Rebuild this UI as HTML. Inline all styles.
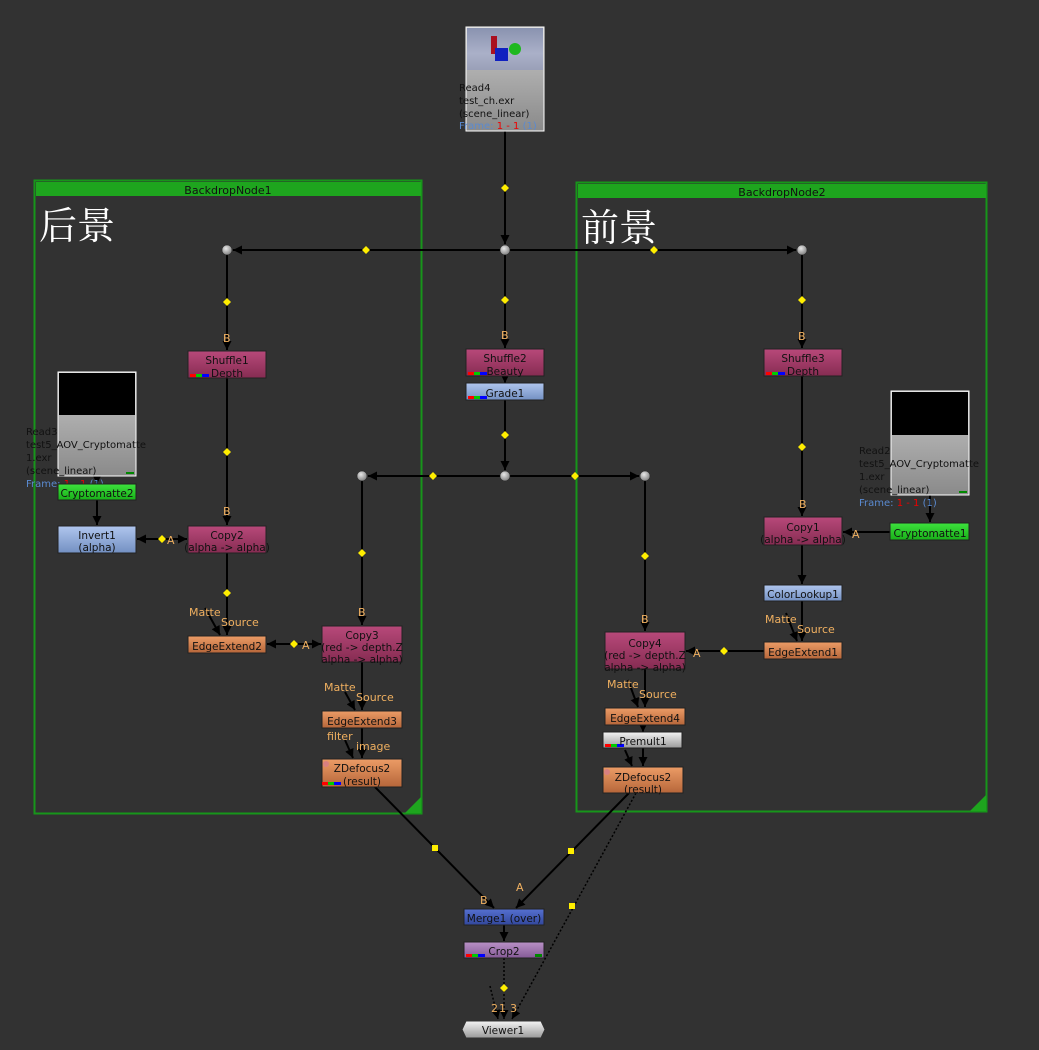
<!DOCTYPE html>
<html><head><meta charset="utf-8"><style>
html,body{margin:0;padding:0;background:#323232;}
svg{display:block}
text{font-family:"DejaVu Sans","Liberation Sans","Noto Sans CJK SC",sans-serif;}
</style></head><body>
<svg width="1039" height="1050" viewBox="0 0 1039 1050" xmlns="http://www.w3.org/2000/svg">
<defs>
<linearGradient id="pk" x1="0" y1="0" x2="0" y2="1"><stop offset="0" stop-color="#b8497a"/><stop offset="1" stop-color="#862c52"/></linearGradient>
<linearGradient id="bl" x1="0" y1="0" x2="0" y2="1"><stop offset="0" stop-color="#b0c6ee"/><stop offset="1" stop-color="#7390c2"/></linearGradient>
<linearGradient id="or" x1="0" y1="0" x2="0" y2="1"><stop offset="0" stop-color="#ec9c66"/><stop offset="1" stop-color="#b6663a"/></linearGradient>
<linearGradient id="gr" x1="0" y1="0" x2="0" y2="1"><stop offset="0" stop-color="#3de23d"/><stop offset="1" stop-color="#18b018"/></linearGradient>
<linearGradient id="mg" x1="0" y1="0" x2="0" y2="1"><stop offset="0" stop-color="#5570d0"/><stop offset="1" stop-color="#32479c"/></linearGradient>
<linearGradient id="cr" x1="0" y1="0" x2="0" y2="1"><stop offset="0" stop-color="#b991c6"/><stop offset="1" stop-color="#855a96"/></linearGradient>
<linearGradient id="wh" x1="0" y1="0" x2="0" y2="1"><stop offset="0" stop-color="#f4f4f4"/><stop offset="1" stop-color="#9a9a9a"/></linearGradient>
<linearGradient id="rd" x1="0" y1="0" x2="0" y2="1"><stop offset="0" stop-color="#c8c8c8"/><stop offset="1" stop-color="#8a8a8a"/></linearGradient>
<linearGradient id="th" x1="0" y1="0" x2="0" y2="1"><stop offset="0" stop-color="#8a93b0"/><stop offset="0.6" stop-color="#aab0c8"/><stop offset="1" stop-color="#9aa0b8"/></linearGradient>
<radialGradient id="dot" cx="0.4" cy="0.35" r="0.7"><stop offset="0" stop-color="#e8e8e8"/><stop offset="1" stop-color="#7a7a7a"/></radialGradient>
<marker id="ah" viewBox="0 0 10 10" refX="10" refY="5" markerWidth="9" markerHeight="9" markerUnits="userSpaceOnUse" orient="auto"><path d="M0,0 L10,5 L0,10 z" fill="#000"/></marker>
</defs>

<rect x="34.5" y="180.5" width="387" height="633" fill="none" stroke="#17961a" stroke-width="2"/>
<rect x="36" y="182" width="385" height="14" fill="#1ea51e"/>
<text x="228" y="194" font-size="11" text-anchor="middle" fill="#111">BackdropNode1</text>
<path d="M421,797 L421,813 L405,813 z" fill="#1ea51e"/>
<text x="39" y="239" font-size="38" fill="#fff" style="font-family:'Noto Serif CJK SC','Liberation Serif',serif">后景</text>

<rect x="576.5" y="182.5" width="410" height="629" fill="none" stroke="#17961a" stroke-width="2"/>
<rect x="578" y="184" width="408" height="14" fill="#1ea51e"/>
<text x="782" y="196" font-size="11" text-anchor="middle" fill="#111">BackdropNode2</text>
<path d="M986,795 L986,811 L970,811 z" fill="#1ea51e"/>
<text x="581" y="241" font-size="38" fill="#fff" style="font-family:'Noto Serif CJK SC','Liberation Serif',serif">前景</text>

<g stroke="#000" stroke-width="2" fill="none">
<line x1="505" y1="131" x2="505" y2="244" marker-end="url(#ah)"/>
<line x1="505" y1="250" x2="233" y2="250" marker-end="url(#ah)"/>
<line x1="505" y1="250" x2="796" y2="250" marker-end="url(#ah)"/>
<line x1="227" y1="250" x2="227" y2="350" marker-end="url(#ah)"/>
<line x1="505" y1="250" x2="505" y2="348" marker-end="url(#ah)"/>
<line x1="802" y1="250" x2="802" y2="348" marker-end="url(#ah)"/>
<line x1="505" y1="376" x2="505" y2="383" marker-end="url(#ah)"/>
<line x1="505" y1="400" x2="505" y2="470" marker-end="url(#ah)"/>
<line x1="505" y1="476" x2="368" y2="476" marker-end="url(#ah)"/>
<line x1="505" y1="476" x2="639" y2="476" marker-end="url(#ah)"/>
<line x1="227" y1="378" x2="227" y2="525" marker-end="url(#ah)"/>
<line x1="97" y1="476" x2="97" y2="484" marker-end="url(#ah)"/>
<line x1="97" y1="500" x2="97" y2="525" marker-end="url(#ah)"/>
<line x1="137" y1="539" x2="187" y2="539" marker-end="url(#ah)"/>
<line x1="160" y1="539" x2="137" y2="539" marker-end="url(#ah)"/>
<line x1="227" y1="553" x2="227" y2="635" marker-end="url(#ah)"/>
<line x1="205" y1="608" x2="220" y2="635" marker-end="url(#ah)"/>
<line x1="362" y1="476" x2="362" y2="625" marker-end="url(#ah)"/>
<line x1="267" y1="644" x2="321" y2="644" marker-end="url(#ah)"/>
<line x1="290" y1="644" x2="267" y2="644" marker-end="url(#ah)"/>
<line x1="362" y1="662" x2="362" y2="710" marker-end="url(#ah)"/>
<line x1="345" y1="692" x2="355" y2="710" marker-end="url(#ah)"/>
<line x1="362" y1="728" x2="362" y2="758" marker-end="url(#ah)"/>
<line x1="345" y1="740" x2="353" y2="758" marker-end="url(#ah)"/>
<line x1="802" y1="376" x2="802" y2="516" marker-end="url(#ah)"/>
<line x1="930" y1="495" x2="930" y2="522" marker-end="url(#ah)"/>
<line x1="890" y1="532" x2="843" y2="532" marker-end="url(#ah)"/>
<line x1="802" y1="545" x2="802" y2="584" marker-end="url(#ah)"/>
<line x1="802" y1="601" x2="802" y2="641" marker-end="url(#ah)"/>
<line x1="786" y1="613" x2="797" y2="641" marker-end="url(#ah)"/>
<line x1="645" y1="476" x2="645" y2="631" marker-end="url(#ah)"/>
<line x1="764" y1="651" x2="686" y2="651" marker-end="url(#ah)"/>
<line x1="645" y1="669" x2="645" y2="707" marker-end="url(#ah)"/>
<line x1="628" y1="680" x2="638" y2="707" marker-end="url(#ah)"/>
<line x1="643" y1="725" x2="643" y2="732" marker-end="url(#ah)"/>
<line x1="643" y1="748" x2="643" y2="766" marker-end="url(#ah)"/>
<line x1="625" y1="750" x2="632" y2="766" marker-end="url(#ah)"/>
<line x1="375" y1="787" x2="494" y2="908" marker-end="url(#ah)"/>
<line x1="629" y1="793" x2="516" y2="908" marker-end="url(#ah)"/>
<line x1="504" y1="925" x2="504" y2="941" marker-end="url(#ah)"/>
</g>
<g stroke="#000" stroke-width="1.5" fill="none" stroke-dasharray="2,2">
<line x1="504" y1="958" x2="504" y2="1019" marker-end="url(#ah)"/>
<line x1="490" y1="986" x2="498" y2="1019" marker-end="url(#ah)"/>
<line x1="636" y1="793" x2="512" y2="1019" marker-end="url(#ah)"/>
</g>

<g stroke="#222" stroke-width="0.5" fill="url(#dot)">
<circle cx="227" cy="250" r="5"/><circle cx="505" cy="250" r="5"/><circle cx="802" cy="250" r="5"/>
<circle cx="362" cy="476" r="5"/><circle cx="505" cy="476" r="5"/><circle cx="645" cy="476" r="5"/>
</g>
<g fill="#ffee00">
<path d="M505,184 l4,4 l-4,4 l-4,-4z"/><path d="M366,246 l4,4 l-4,4 l-4,-4z"/><path d="M654,246 l4,4 l-4,4 l-4,-4z"/>
<path d="M227,298 l4,4 l-4,4 l-4,-4z"/><path d="M505,296 l4,4 l-4,4 l-4,-4z"/><path d="M802,296 l4,4 l-4,4 l-4,-4z"/>
<path d="M505,431 l4,4 l-4,4 l-4,-4z"/><path d="M433,472 l4,4 l-4,4 l-4,-4z"/><path d="M575,472 l4,4 l-4,4 l-4,-4z"/>
<path d="M227,448 l4,4 l-4,4 l-4,-4z"/><path d="M802,443 l4,4 l-4,4 l-4,-4z"/>
<path d="M162,535 l4,4 l-4,4 l-4,-4z"/><path d="M362,549 l4,4 l-4,4 l-4,-4z"/><path d="M645,552 l4,4 l-4,4 l-4,-4z"/>
<path d="M227,589 l4,4 l-4,4 l-4,-4z"/><path d="M294,640 l4,4 l-4,4 l-4,-4z"/><path d="M724,647 l4,4 l-4,4 l-4,-4z"/>
<path d="M504,984 l4,4 l-4,4 l-4,-4z"/>
<rect x="432" y="845" width="6" height="6"/><rect x="568" y="848" width="6" height="6"/><rect x="569" y="903" width="6" height="6"/>
</g>

<g fill="#f0b060" font-size="11">
<text x="223" y="342">B</text><text x="501" y="339">B</text><text x="798" y="340">B</text>
<text x="223" y="515">B</text><text x="358" y="616">B</text><text x="641" y="623">B</text><text x="799" y="508">B</text>
<text x="167" y="544">A</text><text x="302" y="649">A</text><text x="852" y="538">A</text><text x="693" y="657">A</text>
<text x="189" y="616">Matte</text><text x="221" y="626">Source</text>
<text x="324" y="691">Matte</text><text x="356" y="701">Source</text>
<text x="327" y="740">filter</text><text x="356" y="750">image</text>
<text x="765" y="623">Matte</text><text x="797" y="633">Source</text>
<text x="607" y="688">Matte</text><text x="639" y="698">Source</text>
<text x="480" y="904">B</text><text x="516" y="891">A</text>
<text x="491" y="1012">2</text><text x="499" y="1012">1</text><text x="510" y="1012">3</text>
</g>

<rect x="466" y="27" width="78" height="104" fill="url(#rd)" stroke="#fff" stroke-width="1"/>
<rect x="467" y="28" width="76" height="42" fill="url(#th)"/>
<rect x="491" y="36" width="6" height="18" fill="#aa1020"/><circle cx="515" cy="49" r="6" fill="#1fb81f"/><rect x="495" y="48" width="13" height="13" fill="#1020c0"/>
<g font-size="10" fill="#111"><text x="459" y="91">Read4</text><text x="459" y="104">test_ch.exr</text><text x="459" y="117">(scene_linear)</text></g>
<text x="459" y="129" font-size="10" fill="#5a8ad0">Frame: <tspan fill="#e00">1 - 1</tspan> (1)</text>

<rect x="58" y="372" width="78" height="104" fill="url(#rd)" stroke="#fff" stroke-width="1"/>
<rect x="59" y="373" width="76" height="42" fill="#000"/>
<rect x="126" y="472" width="8" height="2" fill="#080"/>
<g font-size="10" fill="#111"><text x="26" y="435">Read3</text><text x="26" y="448">test5_AOV_Cryptomatte</text><text x="26" y="461">1.exr</text><text x="26" y="474">(scene_linear)</text></g>
<text x="26" y="487" font-size="10" fill="#5a8ad0">Frame: <tspan fill="#e00">1 - 1</tspan> (1)</text>

<rect x="891" y="391" width="78" height="104" fill="url(#rd)" stroke="#fff" stroke-width="1"/>
<rect x="892" y="392" width="76" height="43" fill="#000"/>
<rect x="959" y="491" width="8" height="2" fill="#080"/>
<g font-size="10" fill="#111"><text x="859" y="454">Read2</text><text x="859" y="467">test5_AOV_Cryptomatte</text><text x="859" y="480">1.exr</text><text x="859" y="493">(scene_linear)</text></g>
<text x="859" y="506" font-size="10" fill="#5a8ad0">Frame: <tspan fill="#e00">1 - 1</tspan> (1)</text>

<g stroke="#222" stroke-width="1">
<rect x="188" y="351" width="78" height="27" fill="url(#pk)"/>
<rect x="466" y="349" width="78" height="27" fill="url(#pk)"/>
<rect x="764" y="349" width="78" height="27" fill="url(#pk)"/>
<rect x="466" y="383" width="78" height="17" fill="url(#bl)"/>
<rect x="58" y="484" width="78" height="16" fill="url(#gr)"/>
<rect x="58" y="526" width="78" height="27" fill="url(#bl)"/>
<rect x="188" y="526" width="78" height="27" fill="url(#pk)"/>
<rect x="188" y="636" width="78" height="17" fill="url(#or)"/>
<rect x="322" y="626" width="80" height="36" fill="url(#pk)"/>
<rect x="322" y="711" width="80" height="17" fill="url(#or)"/>
<rect x="322" y="759" width="80" height="28" fill="url(#or)"/>
<rect x="764" y="517" width="78" height="28" fill="url(#pk)"/>
<rect x="890" y="523" width="79" height="17" fill="url(#gr)"/>
<rect x="764" y="585" width="78" height="16" fill="url(#bl)"/>
<rect x="764" y="642" width="78" height="17" fill="url(#or)"/>
<rect x="605" y="632" width="80" height="37" fill="url(#pk)"/>
<rect x="605" y="708" width="80" height="17" fill="url(#or)"/>
<rect x="603" y="732" width="79" height="16" fill="url(#wh)"/>
<rect x="603" y="767" width="80" height="26" fill="url(#or)"/>
<rect x="464" y="909" width="80" height="16" fill="url(#mg)"/>
<rect x="464" y="942" width="80" height="16" fill="url(#cr)"/>
</g>
<path d="M466,1021 L541,1021 L545,1029.5 L541,1038 L466,1038 L462,1029.5 z" fill="url(#wh)" stroke="#333"/>
<circle cx="326" cy="764" r="3" fill="#d88080"/><circle cx="607" cy="772" r="3" fill="#d88080"/>

<g>
<rect x="190" y="374" width="6" height="3" fill="#f00"/><rect x="196" y="374" width="6" height="3" fill="#0c0"/><rect x="202" y="374" width="7" height="3" fill="#00f"/>
<rect x="468" y="372" width="6" height="3" fill="#f00"/><rect x="474" y="372" width="6" height="3" fill="#0c0"/><rect x="480" y="372" width="7" height="3" fill="#00f"/>
<rect x="766" y="372" width="6" height="3" fill="#f00"/><rect x="772" y="372" width="6" height="3" fill="#0c0"/><rect x="778" y="372" width="7" height="3" fill="#00f"/>
<rect x="468" y="396" width="6" height="3" fill="#f00"/><rect x="474" y="396" width="6" height="3" fill="#0c0"/><rect x="480" y="396" width="7" height="3" fill="#00f"/>
<rect x="466" y="954" width="6" height="3" fill="#f00"/><rect x="472" y="954" width="6" height="3" fill="#0c0"/><rect x="478" y="954" width="7" height="3" fill="#00f"/><rect x="535" y="954" width="7" height="3" fill="#080"/>
<rect x="322" y="782" width="6" height="3" fill="#f00"/><rect x="328" y="782" width="6" height="3" fill="#0c0"/><rect x="334" y="782" width="7" height="3" fill="#00f"/>
<rect x="605" y="744" width="6" height="3" fill="#f00"/><rect x="611" y="744" width="6" height="3" fill="#0c0"/><rect x="617" y="744" width="7" height="3" fill="#00f"/>
</g>

<g font-size="10.5" fill="#111" text-anchor="middle">
<text x="227" y="364">Shuffle1</text><text x="227" y="377">Depth</text>
<text x="505" y="362">Shuffle2</text><text x="505" y="375">Beauty</text>
<text x="803" y="362">Shuffle3</text><text x="803" y="375">Depth</text>
<text x="505" y="397">Grade1</text>
<text x="97" y="497">Cryptomatte2</text>
<text x="97" y="539">Invert1</text><text x="97" y="551">(alpha)</text>
<text x="227" y="539">Copy2</text><text x="227" y="551">(alpha -&gt; alpha)</text>
<text x="227" y="650">EdgeExtend2</text>
<text x="362" y="639">Copy3</text><text x="362" y="651">(red -&gt; depth.Z</text><text x="362" y="663">alpha -&gt; alpha)</text>
<text x="362" y="725">EdgeExtend3</text>
<text x="362" y="772">ZDefocus2</text><text x="362" y="785">(result)</text>
<text x="803" y="531">Copy1</text><text x="803" y="543">(alpha -&gt; alpha)</text>
<text x="930" y="537">Cryptomatte1</text>
<text x="803" y="598">ColorLookup1</text>
<text x="803" y="656">EdgeExtend1</text>
<text x="645" y="647">Copy4</text><text x="645" y="659">(red -&gt; depth.Z</text><text x="645" y="671">alpha -&gt; alpha)</text>
<text x="645" y="722">EdgeExtend4</text>
<text x="643" y="745">Premult1</text>
<text x="643" y="781">ZDefocus2</text><text x="643" y="793">(result)</text>
<text x="504" y="922">Merge1 (over)</text>
<text x="504" y="955">Crop2</text>
<text x="503" y="1034">Viewer1</text>
</g>
</svg>
</body></html>
